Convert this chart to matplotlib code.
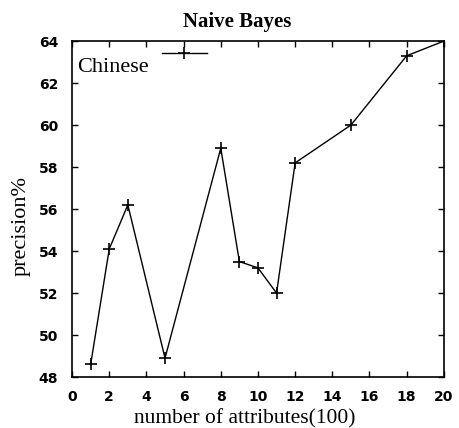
import matplotlib
matplotlib.use("Agg")
import matplotlib.pyplot as plt

x_attrs = [1, 2, 3, 5, 8, 9, 10, 11, 12, 15, 18, 20]
precision = [48.6, 54.1, 56.2, 48.9, 58.9, 53.5, 53.2, 52.0, 58.2, 60.0, 63.3, 64.0]
xticks = list(range(0, 21, 2))
yticks = list(range(48, 65, 2))

fig = plt.figure(figsize=(4.59, 4.28), dpi=100)
ax = fig.add_axes([0.157, 0.119, 0.81, 0.785])
ax.plot(x_attrs, precision, color='black', linewidth=1.0, marker='+', markersize=9,
        markeredgewidth=1.2, label='Chinese')
ax.set_xlim(0, 20)
ax.set_ylim(48, 64)
ax.set_xticks(xticks)
ax.set_yticks(yticks)
ax.tick_params(direction='in', top=True, right=True, length=4, width=1.0)
ax.tick_params(axis='x', pad=9)
ax.tick_params(axis='y', pad=10)
for lab in ax.get_xticklabels() + ax.get_yticklabels():
    lab.set_fontfamily('DejaVu Sans')
    lab.set_fontweight('heavy')
    lab.set_fontsize(10)
for s in ax.spines.values():
    s.set_linewidth(1.2)

serif = 'Liberation Serif'
ax.set_title('Naive Bayes', fontfamily=serif, fontweight='bold', fontsize=15, pad=10, x=0.444)
ax.set_xlabel('number of attributes(100)', fontfamily=serif, fontsize=15.5)
ax.set_ylabel('precision%', fontfamily=serif, fontsize=16)
ax.xaxis.set_label_coords(0.465, -0.095)
ax.yaxis.set_label_coords(-0.11, 0.45)

leg = ax.legend(loc='upper left', frameon=False, prop={'family': serif, 'size': 16},
                markerfirst=False, handlelength=2.0, handletextpad=0.6,
                borderaxespad=0.1, bbox_to_anchor=(-0.016, 1.02))
leg.get_texts()[0].set_y(-11)
fig.savefig('out.png', dpi=100)
